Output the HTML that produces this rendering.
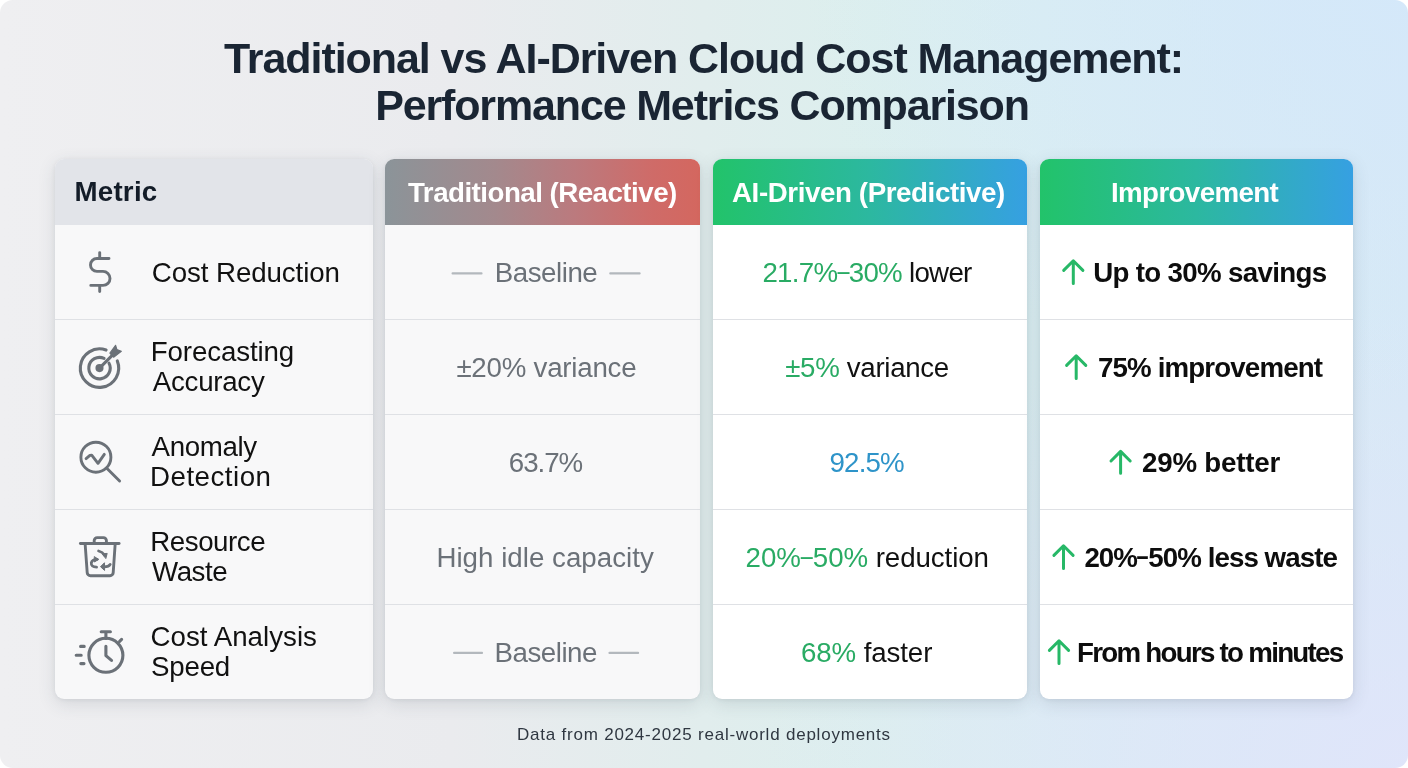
<!DOCTYPE html>
<html><head><meta charset="utf-8">
<style>
*{box-sizing:border-box;margin:0;padding:0}
html,body{width:1408px;height:768px;overflow:hidden;background:#fff}
body{font-family:"Liberation Sans",Arial,sans-serif;position:relative}
#frame{position:absolute;left:0;top:0;width:1408px;height:768px;border-radius:13px;overflow:hidden;
 background:
  radial-gradient(ellipse 600px 420px at 1408px 0px, rgba(212,232,250,0.85), rgba(212,232,250,0) 100%),
  radial-gradient(ellipse 650px 480px at 1408px 768px, rgba(224,229,250,0.95), rgba(224,229,250,0) 100%),
  linear-gradient(90deg,#efeff1 0%,#eaebee 32%,#e1eded 50%,#dcefee 62%,#daeef2 74%,#d7e9f6 100%);}
.tx{position:absolute;white-space:nowrap;line-height:1;transform:translateZ(0)}
.card{position:absolute;top:159px;height:540px;border-radius:9px;overflow:hidden;box-shadow:0 5px 18px rgba(50,60,80,0.13),0 1px 4px rgba(50,60,80,0.08)}
.hdr{position:absolute;left:0;top:0;width:100%;height:65.5px}
.ln{position:absolute;left:0;width:100%;height:1px;background:#dfe1e5}
#c1{left:54.5px;width:318.8px;background:#f8f8f9}
#c2{left:385.2px;width:314.8px;background:#f8f8f9}
#c3{left:712.5px;width:314px;background:#fff}
#c4{left:1039.5px;width:313.5px;background:#fff}
#c1 .hdr{background:#e2e4e9}
#c2 .hdr{background:linear-gradient(90deg,#8b9499 0%,#a3898d 35%,#bb7a7e 60%,#cf6b68 85%,#d4675f 100%)}
#c3 .hdr,#c4 .hdr{background:linear-gradient(90deg,#22c36a 0%,#2cb8a0 50%,#36a0e2 100%)}
.gr{color:#29ab64}
.bl{color:#2e94c9}
.ic{position:absolute;overflow:visible}
.dash{position:absolute;height:2px;background:#adb2b8;border-radius:1px}
.nd{display:inline-block;transform:translateY(-2px) scaleX(0.78);margin:0 -1.65px}

</style></head>
<body>
<div id="frame">
<div class="card" id="c1"><div class="hdr"></div>
 <div class="ln" style="top:160px"></div><div class="ln" style="top:255px"></div><div class="ln" style="top:350px"></div><div class="ln" style="top:445px"></div></div>
<div class="card" id="c2"><div class="hdr"></div>
 <div class="ln" style="top:160px"></div><div class="ln" style="top:255px"></div><div class="ln" style="top:350px"></div><div class="ln" style="top:445px"></div></div>
<div class="card" id="c3"><div class="hdr"></div>
 <div class="ln" style="top:160px"></div><div class="ln" style="top:255px"></div><div class="ln" style="top:350px"></div><div class="ln" style="top:445px"></div></div>
<div class="card" id="c4"><div class="hdr"></div>
 <div class="ln" style="top:160px"></div><div class="ln" style="top:255px"></div><div class="ln" style="top:350px"></div><div class="ln" style="top:445px"></div></div>
<svg id="ovl" width="1408" height="768" viewBox="0 0 1408 768" style="position:absolute;left:0;top:0" fill="none" stroke-linecap="round" stroke-linejoin="round">
 <g stroke="#6b7178">
  <!-- dollar -->
  <path stroke-width="2.9" d="M99.7 252.6V258.5M99.7 285.4V291.5M109 258.5H96.95A6.45 6.45 0 0 0 96.95 271.4H103A7 7 0 0 1 103 285.4H90.8"/>
  <!-- target arrow -->
  <g stroke-width="3.1">
   <path d="M106.07 350.06A19.2 19.2 0 1 0 117.3 360.91"/>
   <path d="M104.07 358.43A10.7 10.7 0 1 0 108.97 363.11"/>
   <circle cx="99.5" cy="368.1" r="4.05" fill="#6b7178" stroke="none"/>
   <path d="M99.5 368.1L112.2 355.4"/>
   <path d="M109.9 353.2L115.6 345.3L116.9 349.6L121.3 351.3L113.6 357.2Z" fill="#6b7178" stroke-width="1.2"/>
  </g>
  <!-- anomaly magnifier -->
  <g stroke-width="2.9">
   <circle cx="95.9" cy="457.2" r="15"/>
   <path d="M106.8 468.2L119.6 481"/>
   <path d="M86.1 458.6L89.9 455.4L91.7 455.2L98 463.3L104.3 454.4"/>
  </g>
  <!-- trash -->
  <g stroke-width="2.9">
   <path d="M80.4 543.5H119.1"/>
   <path d="M94.2 543.5V540.6a3 3 0 0 1 3-3h6.2a3 3 0 0 1 3 3V543.5"/>
   <path d="M85.1 543.5L87.2 572.6a3.2 3.2 0 0 0 3.2 3.1H110a3.2 3.2 0 0 0 3.2-3.1L115.2 543.5"/>
  </g>
  <g stroke-width="2.8">
   <path d="M98.6 551Q102.6 552 104.6 555.2"/>
   <path d="M102.6 553.8L107.2 553.4L105.9 558.2Z" fill="#6b7178" stroke-width="1"/>
   <path d="M97.2 559.3Q92.3 559.1 91.3 562.8Q90.9 567 96.6 567.2"/>
   <path d="M94.6 556.8L98.6 559.4L94.8 561.8Z" fill="#6b7178" stroke-width="1"/>
   <path d="M110.2 564.4Q108.6 567.3 103 566.9"/>
   <path d="M104.2 563L100.5 566.7L104.3 570.2Z" fill="#6b7178" stroke-width="1"/>
  </g>
  <!-- stopwatch -->
  <g stroke-width="3.1">
   <circle cx="105.9" cy="655.3" r="17"/>
   <path d="M101.2 631.8H110.4M105.9 631.8V638.4M119.6 641.4L121.6 639.4M105.9 646.2V655.6L111.5 660.4"/>
   <path d="M80.6 646.4H84.2M76.2 655.2H81.2M80.8 663.6H84"/>
  </g>
 </g>
 <!-- dashes -->
 <g stroke="#b3b8bd" stroke-width="2.2" stroke-linecap="round">
  <path d="M452.6 273.4H481.5M610.3 273.4H639.6M454.1 652.9H482M609.5 652.9H638.1"/>
 </g>
 <!-- green arrows -->
 <g stroke="#27b867" stroke-width="3">
  <path d="M1073.3 283.5V261M1063.7 270.4L1073.3 260.8L1082.9 270.4"/>
  <path d="M1076.2 378.5V356M1066.6 365.4L1076.2 355.8L1085.8 365.4"/>
  <path d="M1120.6 473.3V451.6M1111 461L1120.6 451.4L1130.2 461"/>
  <path d="M1063.5 568.5V546M1053.9 555.4L1063.5 545.8L1073.1 555.4"/>
  <path d="M1059 663.5V641M1049.4 650.4L1059 640.8L1068.6 650.4"/>
 </g>
</svg>

<div class="tx" id="t1" style="left:224.00px;top:37.10px;font-size:43px;font-weight:bold;color:#1a2533;letter-spacing:-1.065px">Traditional vs AI-Driven Cloud Cost Management:</div>
<div class="tx" id="t2" style="left:375.20px;top:84.10px;font-size:43px;font-weight:bold;color:#1a2533;letter-spacing:-1.152px">Performance Metrics Comparison</div>
<div class="tx" id="h1" style="left:74.50px;top:178.05px;font-size:27.7px;font-weight:bold;color:#131c28;letter-spacing:0.230px">Metric</div>
<div class="tx" id="h2" style="left:408.00px;top:179.05px;font-size:27.7px;font-weight:bold;color:#ffffff;letter-spacing:-0.514px">Traditional (Reactive)</div>
<div class="tx" id="h3" style="left:732.00px;top:179.05px;font-size:27.7px;font-weight:bold;color:#ffffff;letter-spacing:-0.395px">AI-Driven (Predictive)</div>
<div class="tx" id="h4" style="left:1111.00px;top:179.05px;font-size:27.7px;font-weight:bold;color:#ffffff;letter-spacing:-0.610px">Improvement</div>
<div class="tx" id="m1" style="left:151.80px;top:259.05px;font-size:27.7px;font-weight:normal;color:#111111;letter-spacing:-0.085px">Cost Reduction</div>
<div class="tx" id="m2a" style="left:150.80px;top:338.05px;font-size:27.7px;font-weight:normal;color:#111111;letter-spacing:-0.120px">Forecasting</div>
<div class="tx" id="m2b" style="left:152.80px;top:368.05px;font-size:27.7px;font-weight:normal;color:#111111;letter-spacing:-0.271px">Accuracy</div>
<div class="tx" id="m3a" style="left:151.60px;top:433.05px;font-size:27.7px;font-weight:normal;color:#111111;letter-spacing:-0.367px">Anomaly</div>
<div class="tx" id="m3b" style="left:150.00px;top:463.05px;font-size:27.7px;font-weight:normal;color:#111111;letter-spacing:0.500px">Detection</div>
<div class="tx" id="m4a" style="left:150.20px;top:528.05px;font-size:27.7px;font-weight:normal;color:#111111;letter-spacing:-0.429px">Resource</div>
<div class="tx" id="m4b" style="left:152.00px;top:558.05px;font-size:27.7px;font-weight:normal;color:#111111;letter-spacing:-0.450px">Waste</div>
<div class="tx" id="m5a" style="left:150.60px;top:623.05px;font-size:27.7px;font-weight:normal;color:#111111;letter-spacing:0.008px">Cost Analysis</div>
<div class="tx" id="m5b" style="left:151.00px;top:653.05px;font-size:27.7px;font-weight:normal;color:#111111;letter-spacing:-0.200px">Speed</div>
<div class="tx" id="a1" style="left:494.80px;top:259.05px;font-size:27.7px;font-weight:normal;color:#6b7178;letter-spacing:-0.471px">Baseline</div>
<div class="tx" id="a2" style="left:456.40px;top:354.05px;font-size:27.7px;font-weight:normal;color:#6b7178;letter-spacing:-0.233px">±20% variance</div>
<div class="tx" id="a3" style="left:508.80px;top:449.05px;font-size:27.7px;font-weight:normal;color:#6b7178;letter-spacing:-1.025px">63.7%</div>
<div class="tx" id="a4" style="left:436.40px;top:544.05px;font-size:27.7px;font-weight:normal;color:#6b7178;letter-spacing:0.024px">High idle capacity</div>
<div class="tx" id="a5" style="left:494.60px;top:639.05px;font-size:27.7px;font-weight:normal;color:#6b7178;letter-spacing:-0.486px">Baseline</div>
<div class="tx" id="b1" style="left:762.40px;top:259.05px;font-size:27.7px;font-weight:normal;color:#111111;letter-spacing:-0.714px"><span class="gr">21.7%<span class="nd">–</span>30%</span> lower</div>
<div class="tx" id="b2" style="left:785.20px;top:354.05px;font-size:27.7px;font-weight:normal;color:#111111;letter-spacing:-0.318px"><span class="gr">±5%</span> variance</div>
<div class="tx" id="b3" style="left:829.60px;top:449.05px;font-size:27.7px;font-weight:normal;color:#111111;letter-spacing:-0.875px"><span class="bl">92.5%</span></div>
<div class="tx" id="b4" style="left:745.60px;top:544.05px;font-size:27.7px;font-weight:normal;color:#111111;letter-spacing:-0.075px"><span class="gr">20%<span class="nd">–</span>50%</span> reduction</div>
<div class="tx" id="b5" style="left:801.00px;top:639.05px;font-size:27.7px;font-weight:normal;color:#111111;letter-spacing:-0.111px"><span class="gr">68%</span> faster</div>
<div class="tx" id="d1" style="left:1093.20px;top:259.05px;font-size:27.7px;font-weight:bold;color:#0d0d0d;letter-spacing:-0.669px">Up to 30% savings</div>
<div class="tx" id="d2" style="left:1098.00px;top:354.05px;font-size:27.7px;font-weight:bold;color:#0d0d0d;letter-spacing:-0.857px">75% improvement</div>
<div class="tx" id="d3" style="left:1142.00px;top:449.05px;font-size:27.7px;font-weight:bold;color:#0d0d0d;letter-spacing:-0.200px">29% better</div>
<div class="tx" id="d4" style="left:1084.40px;top:544.05px;font-size:27.7px;font-weight:bold;color:#0d0d0d;letter-spacing:-0.924px">20%<span class="nd">–</span>50% less waste</div>
<div class="tx" id="d5" style="left:1077.00px;top:639.05px;font-size:27.7px;font-weight:bold;color:#0d0d0d;letter-spacing:-1.720px">From hours to minutes</div>
<div class="tx" id="f" style="left:517.00px;top:726.11px;font-size:17px;font-weight:normal;color:#2f3741;letter-spacing:0.780px">Data from 2024-2025 real-world deployments</div>
</div>
</body></html>
